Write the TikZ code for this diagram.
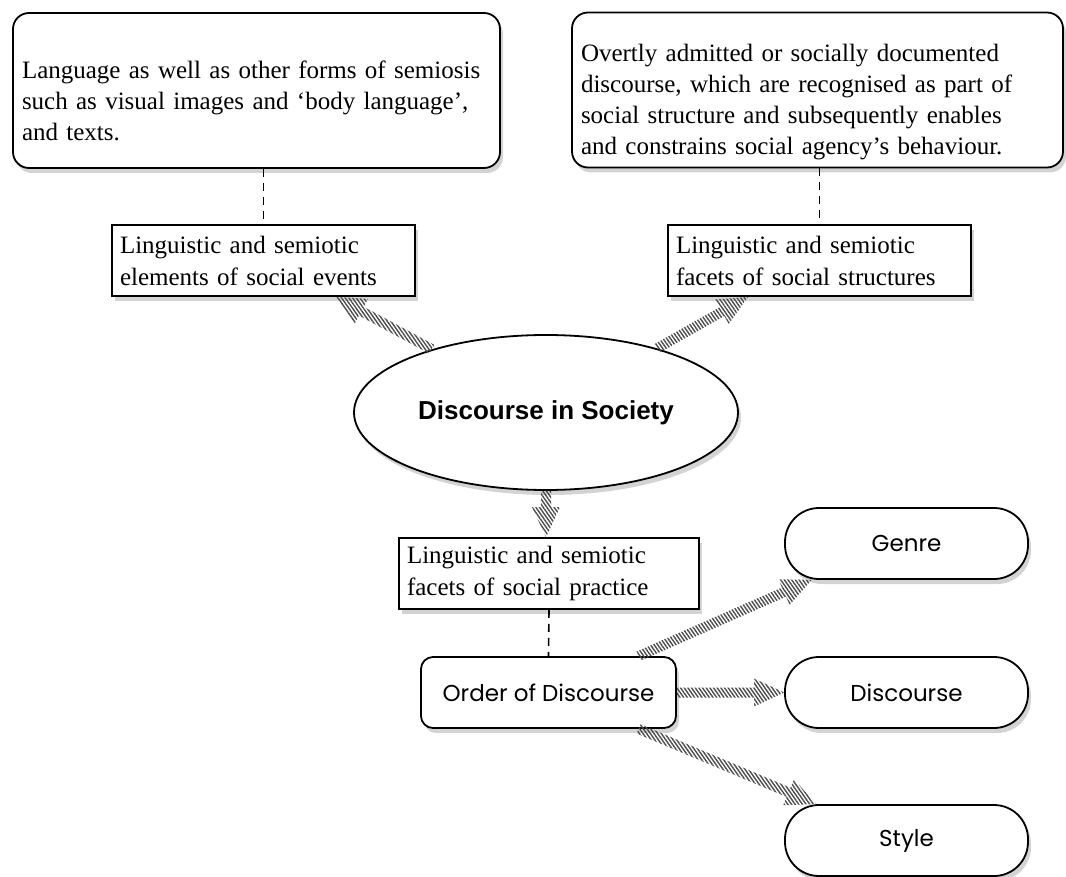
\documentclass[tikz,border=0pt]{standalone}
\usepackage{fontspec}
\setmainfont{Liberation Serif}
\newfontfamily\roundfont{Poppins}
\newfontfamily\headfont{Liberation Sans}
\usetikzlibrary{
    shapes.geometric,
    shadows,
    patterns.meta,
    calc
}

% broad hatched arrow from one anchor to another
\newcommand{\hatcharrow}[2]{%
    \path[hatch] let \p1=(#1), \p2=(#2),
        \n1={atan2(\y2-\y1,\x2-\x1)}, \n2={veclen(\x2-\x1,\y2-\y1)-15pt} in
        ($(\p1)+(\n1-90:2.5pt)$) -- ($(\p1)+(\n1:\n2)+(\n1-90:2.5pt)$)
        -- ($(\p1)+(\n1:\n2)+(\n1-90:7pt)$) -- (\p2)
        -- ($(\p1)+(\n1:\n2)+(\n1+90:7pt)$) -- ($(\p1)+(\n1:\n2)+(\n1+90:2.5pt)$)
        -- ($(\p1)+(\n1+90:2.5pt)$) -- cycle;%
}

\begin{document}
\begin{tikzpicture}[x=0.5pt, y=-0.5pt,
    shade/.style={drop shadow={shadow xshift=1.5pt, shadow yshift=-2.5pt, opacity=0.35}},
    notebox/.style={draw, line width=0.9pt, rounded corners=8pt, fill=white, shade,
        align=left, inner xsep=4.5pt, minimum height=77.5pt,
        font=\fontsize{12.5}{15.5}\selectfont},
    facetbox/.style={draw, line width=0.9pt, fill=white, shade,
        align=left, inner xsep=4pt, minimum height=35.5pt,
        font=\fontsize{12.5}{16}\selectfont},
    pillbox/.style={draw, line width=0.9pt, rounded corners=17pt, fill=white, shade,
        minimum width=121.5pt, minimum height=35.5pt,
        font=\roundfont\fontsize{11.5}{14}\selectfont},
    link/.style={line width=0.8pt, dash pattern=on 4pt off 3pt},
    hatch/.style={pattern={Lines[angle=-55, distance=1.5pt, line width=0.7pt]},
        pattern color=gray!60!black}
]
    \useasboundingbox (0,0) rectangle (1066,877);

    % the two descriptions at the top
    \node[notebox, text width=234.5pt] (lang) at (256.5, 90.5)
        {\rule{0pt}{19pt}Language as well as other forms of semiosis\\
         such as visual images and ‘body language’,\\
         and texts.};
    \node[notebox, text width=236.5pt] (overt) at (817.5, 90)
        {\rule{0pt}{21pt}Overtly admitted or socially documented\\
         discourse, which are recognised as part of\\
         social structure and subsequently enables\\
         and constrains social agency’s behaviour.};

    % facets
    \node[facetbox, text width=143.5pt] (events) at (263.5, 260.5)
        {Linguistic and semiotic\\ elements of social events};
    \node[facetbox, text width=143.5pt] (structures) at (819.5, 260.5)
        {Linguistic and semiotic\\ facets of social structures};
    \node[facetbox, text width=142pt] (practice) at (549, 573.5)
        {Linguistic and semiotic\\ facets of social practice};

    \node[draw, line width=0.9pt, ellipse, fill=white, shade, inner sep=0pt,
        minimum width=192pt, minimum height=77.5pt,
        font=\headfont\bfseries\fontsize{13}{16}\selectfont] (society) at (546, 412.5)
        {Discourse in Society};

    \node[draw, line width=0.9pt, rounded corners=6pt, fill=white, shade,
        minimum width=127.5pt, minimum height=35.5pt,
        font=\roundfont\fontsize{11.5}{14}\selectfont] (order) at (548.5, 692.5)
        {Order of Discourse};

    \node[pillbox] (genre) at (906.5, 543.5) {Genre};
    \node[pillbox] (discourse) at (906.5, 692.5) {Discourse};
    \node[pillbox] (style) at (906.5, 840.5) {Style};

    % dashed links
    \draw[link] (events.north |- lang.south) -- (events.north);
    \draw[link] (structures.north |- overt.south) -- (structures.north);
    \draw[link] (practice.south) -- (order.north);

    % arrows
    \hatcharrow{society.151}{events.-27}
    \hatcharrow{society.30}{structures.207}
    \hatcharrow{society.south}{society.south |- practice.north}
    \hatcharrow{order.22}{genre.201}
    \hatcharrow{order.east}{discourse.west}
    \hatcharrow{order.-22}{style.158}
\end{tikzpicture}
\end{document}
